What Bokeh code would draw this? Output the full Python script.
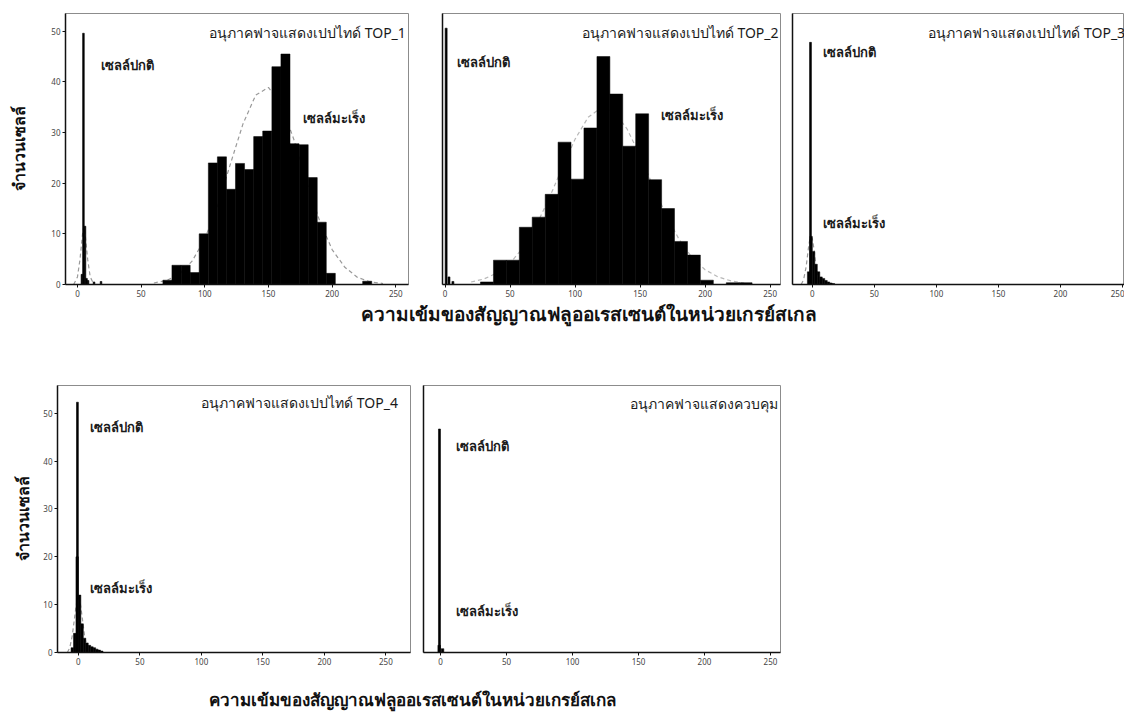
from bokeh.plotting import figure
from bokeh.models import Range1d, Label, FixedTicker
from bokeh.layouts import column, row
from bokeh.embed import file_html
from bokeh.resources import INLINE

FONT = "Noto Sans"

# ---------------- data ----------------
x_ticks = [0, 50, 100, 150, 200, 250]
y_ticks = [0, 10, 20, 30, 40, 50]
y_label = "จำนวนเซลล์"
x_label = "ความเข้มของสัญญาณฟลูออเรสเซนต์ในหน่วยเกรย์สเกล"
normal_txt = "เซลล์ปกติ"
cancer_txt = "เซลล์มะเร็ง"
titles = ["อนุภาคฟาจแสดงเปปไทด์ TOP_1", "อนุภาคฟาจแสดงเปปไทด์ TOP_2",
          "อนุภาคฟาจแสดงเปปไทด์ TOP_3", "อนุภาคฟาจแสดงเปปไทด์ TOP_4",
          "อนุภาคฟาจแสดงควบคุม"]

# TOP_1
p1_bin_w = 7.13
p1_left = [67.1, 74.2, 81.4, 88.5, 95.6, 102.8, 109.9, 117.0, 124.1, 131.3, 138.4, 145.5,
           152.7, 159.8, 166.9, 174.1, 181.2, 188.3, 195.4, 202.6, 209.7, 216.8, 224.0]
p1_count = [0.85, 3.8, 3.8, 2.35, 10, 24, 25.2, 18.8, 23.9, 22.7, 29.2, 30.3,
            43, 45.5, 27.8, 27.6, 21.1, 12.3, 2.2, 0, 0, 0, 0.65]
p1_norm_x = [3.5, 4.7, 5.9, 7.1, 8.3, 13.0, 18.5]
p1_norm_n = [2.0, 49.6, 11.5, 1.2, 0.8, 0.5, 0.6]
p1_fit_x = [60, 70, 80, 90, 100, 110, 120, 130, 140, 150, 160, 170, 180, 190, 200, 210, 220, 230, 240]
p1_fit_y = [0.3, 0.8, 2.0, 4.6, 9.0, 15.5, 23.7, 31.7, 37.4, 38.9, 35.6, 28.6, 20.3, 12.7, 6.9, 3.4, 1.4, 0.5, 0.2]
p1_nfit_x = [-3, 0, 2, 4, 5, 6, 8, 10, 13]
p1_nfit_y = [0, 1.5, 5, 10, 11.5, 10, 5, 1.5, 0]

# TOP_2
p2_bin_w = 9.95
p2_left = [27.2, 37.2, 47.1, 57.1, 67.0, 77.0, 86.9, 96.9, 106.8, 116.8, 126.7, 136.7,
           146.6, 156.6, 166.5, 176.5, 186.4, 196.4, 206.3, 216.3, 226.2]
p2_count = [0.5, 4.8, 4.8, 11.3, 13.3, 17.8, 28.1, 20.8, 30.9, 45, 37.6, 27.3,
            33.7, 20.7, 15, 8.5, 5.8, 0.85, 0, 0.35, 0.35]
p2_norm_x = [0.8, 3.0, 6.0]
p2_norm_n = [50.6, 1.5, 0.6]
p2_fit_x = [20, 30, 40, 50, 60, 70, 80, 90, 100, 110, 120, 130, 140, 150, 160, 170, 180, 190, 200, 210, 220, 230]
p2_fit_y = [0.5, 1.1, 2.3, 4.2, 7.3, 11.6, 17.0, 23.0, 28.7, 33.0, 34.9, 34.1, 30.7, 25.4, 19.4, 13.7, 8.9, 5.3, 2.9, 1.5, 0.7, 0.3]

# TOP_3
p3_bin_w = 2.0
p3_left = [-4, -2, 0, 2, 4, 6, 8, 10, 12, 14, 16]
p3_count = [2.5, 9.5, 6.5, 4.0, 2.5, 1.5, 1.2, 0.8, 0.5, 0.3, 0.2]
p3_norm_x = [-1.5]
p3_norm_n = [47.8]
p3_fit_x = [-9, -7, -5, -3, -2, -1, 0, 1, 3, 5, 7]
p3_fit_y = [0, 1.0, 3.5, 7.5, 9.0, 9.4, 9.0, 7.5, 3.5, 1.0, 0]

# TOP_4
p4_bin_w = 2.0
p4_left = [-6, -4, -2, 0, 2, 4, 6, 8, 10, 12, 14, 16, 18]
p4_count = [1, 4, 20, 12, 6, 3, 2, 1.5, 1.2, 1, 0.7, 0.5, 0.3]
p4_norm_x = [-0.8]
p4_norm_n = [52.3]
p4_fit_x = [-9, -7, -5, -3, -2, -1, 0, 1, 2, 3, 5, 7, 9]
p4_fit_y = [0, 1, 3.5, 7.5, 9.5, 11, 11.5, 11, 9.5, 7.5, 3.5, 1, 0]

# control
p5_bin_w = 2.0
p5_left = [-2, 0.5]
p5_count = [1.5, 0.8]
p5_norm_x = [-0.8]
p5_norm_n = [46.7]

AX = "#111111"
FR = "#8c8c8c"


def panel(width, height, bl, br, bt, bb, xr, yr, show_y, ylab=None, ylab_standoff=5):
    p = figure(width=width, height=height, x_range=Range1d(*xr), y_range=Range1d(*yr),
               toolbar_location=None, output_backend="svg",
               min_border_left=bl, min_border_right=br, min_border_top=bt, min_border_bottom=bb)
    p.grid.visible = False
    p.background_fill_color = "white"
    p.border_fill_color = "white"
    p.outline_line_color = FR
    p.outline_line_width = 1
    for ax in (p.xaxis[0], p.yaxis[0]):
        ax.axis_line_color = AX
        ax.axis_line_width = 1.5
        ax.major_tick_line_color = AX
        ax.major_tick_out = 3
        ax.major_tick_in = 0
        ax.minor_tick_line_color = None
        ax.major_label_text_font = FONT
        ax.major_label_text_font_size = "8px"
        ax.major_label_text_color = "#444444"
        ax.major_label_standoff = 2
    p.xaxis[0].ticker = FixedTicker(ticks=x_ticks)
    if show_y:
        p.yaxis[0].ticker = FixedTicker(ticks=y_ticks)
    else:
        p.yaxis[0].ticker = FixedTicker(ticks=[])
        p.yaxis[0].major_label_standoff = 0
        p.yaxis[0].major_tick_out = 0
    if ylab:
        p.yaxis[0].axis_label = ylab
        p.yaxis[0].axis_label_text_font = FONT
        p.yaxis[0].axis_label_text_font_style = "bold"
        p.yaxis[0].axis_label_text_font_size = "16px"
        p.yaxis[0].axis_label_text_color = "#111111"
        p.yaxis[0].axis_label_standoff = ylab_standoff
    return p


def bars(p, left, counts, w):
    p.vbar(x=[l + w / 2 for l in left], top=counts, width=w, bottom=0,
           fill_color="black", line_color="black", line_width=0.5)


def spikes(p, xs, ns, w=1.3):
    p.vbar(x=xs, top=ns, width=w, bottom=0, fill_color="black", line_color="black", line_width=0.6)


def fit(p, xs, ys, alpha=1.0):
    p.line(xs, ys, line_color="#9a9a9a", line_dash="4 3", line_width=1.2, line_alpha=alpha)


def lab(p, x, y, t, size="13px", bold=True, align="left", color="#1a1a1a"):
    p.add_layout(Label(x=x, y=y, text=t, text_font=FONT, text_font_size=size,
                       text_font_style="bold" if bold else "normal", text_align=align,
                       text_baseline="middle", text_color=color))


TS = "14px"

# ---- row 1 ----  (the page is drawn without body margin, so offsets include 8px)
H1 = 299
p1 = panel(420, H1, 65, 12, 13, 13, (-9.4, 260), (0, 53.5), True, y_label, 18)
fit(p1, p1_fit_x, p1_fit_y)
fit(p1, p1_nfit_x, p1_nfit_y)
bars(p1, p1_left, p1_count, p1_bin_w)
spikes(p1, p1_norm_x, p1_norm_n)
lab(p1, 257.9, 49.8, titles[0], TS, False, "right")
lab(p1, 18.1, 43.3, normal_txt)
lab(p1, 176.9, 32.9, cancer_txt)

p2 = panel(365, H1, 22, 5, 13, 13, (-2, 258), (0, 53.5), False)
fit(p2, p2_fit_x, p2_fit_y, 0.7)
bars(p2, p2_left, p2_count, p2_bin_w)
spikes(p2, p2_norm_x, p2_norm_n, 1.5)
lab(p2, 256.5, 49.8, titles[1], TS, False, "right")
lab(p2, 9.5, 43.9, normal_txt)
lab(p2, 165.7, 33.5, cancer_txt)

p3 = panel(339, H1, 7, 0, 13, 13, (-16, 251.6), (0, 53.5), False)
fit(p3, p3_fit_x, p3_fit_y)
bars(p3, p3_left, p3_count, p3_bin_w)
spikes(p3, p3_norm_x, p3_norm_n, 1.5)
lab(p3, 93.5, 49.8, titles[2], TS, False, "left")
lab(p3, 8.9, 45.9, normal_txt)
lab(p3, 8.9, 12.2, cancer_txt)

# ---- row 2 ----
H2 = 334
p4 = panel(415, H2, 57, 5, 52, 14, (-17, 270), (0, 55.8), True, y_label, 6)
fit(p4, p4_fit_x, p4_fit_y)
bars(p4, p4_left, p4_count, p4_bin_w)
spikes(p4, p4_norm_x, p4_norm_n, 1.5)
lab(p4, 259.8, 52.3, titles[3], TS, False, "right")
lab(p4, 9.8, 47.1, normal_txt)
lab(p4, 9.8, 13.5, cancer_txt)

p5 = panel(370, H2, 8, 5, 52, 14, (-12.9, 257.6), (0, 55.8), False)
bars(p5, p5_left, p5_count, p5_bin_w)
spikes(p5, p5_norm_x, p5_norm_n, 1.5)
lab(p5, 256, 52.1, titles[4], TS, False, "right")
lab(p5, 11.4, 43.1, normal_txt)
lab(p5, 11.4, 8.75, cancer_txt)


def label_fig(h, cx, cy, size):
    f = figure(width=1124, height=h, x_range=Range1d(0, 1124), y_range=Range1d(0, h),
               toolbar_location=None, output_backend="svg", x_axis_type=None, y_axis_type=None,
               min_border=0)
    f.grid.visible = False
    f.outline_line_color = None
    f.add_layout(Label(x=cx, y=cy, text=x_label, text_font=FONT, text_font_size=size,
                       text_font_style="bold", text_align="center", text_baseline="middle",
                       text_color="#111111"))
    return f


l1 = label_fig(34, 588, 20, "19px")
l2 = label_fig(45, 412, 13, "17px")

layout = column(row(p1, p2, p3), l1, row(p4, p5), l2)
open("out.html", "w").write(file_html(layout, INLINE))
